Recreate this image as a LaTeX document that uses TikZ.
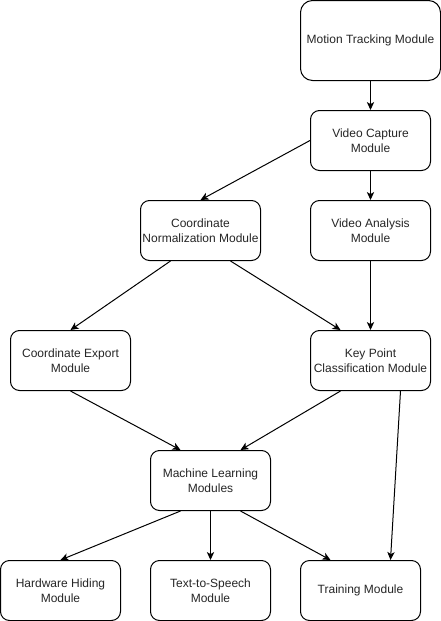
\documentclass[tikz,border=0pt]{standalone}
\usepackage{fontspec}
\setmainfont{Liberation Sans}
\usetikzlibrary{arrows.meta}
\begin{document}
\begin{tikzpicture}[x=0.75pt,y=-0.75pt,
  box/.style={draw=black, line width=0.75pt, rounded corners=6.75pt, fill=white,
    minimum width=90pt, minimum height=45pt, inner sep=1pt, align=center,
    font=\fontsize{9}{11}\selectfont, text=black!85},
  bigbox/.style={box, minimum width=105pt, minimum height=60pt, rounded corners=9pt},
  conn/.style={draw=black, line width=0.75pt, -{Stealth[length=6pt,width=5.5pt,inset=1.6pt]}}]
\useasboundingbox (0,0) rectangle (441,621);
\node[bigbox] (mt) at (370.5,40.5) {Motion Tracking Module};
\node[box] (vc) at (370.5,140.5) {Video Capture\\Module};
\node[box] (cn) at (200.5,230.5) {Coordinate\\Normalization Module};
\node[box] (va) at (370.5,230.5) {Video Analysis\\Module};
\node[box] (ce) at (70.5,360.5) {Coordinate Export\\Module};
\node[box] (kp) at (370.5,360.5) {Key Point\\Classification Module};
\node[box] (ml) at (210.5,480.5) {Machine Learning\\Modules};
\node[box] (hw) at (60.5,590.5) {Hardware Hiding\\Module};
\node[box] (tts) at (210.5,590.5) {Text-to-Speech\\Module};
\node[box] (tr) at (360.5,590.5) {Training Module};

\draw[conn] (mt.south) -- (vc.north);
\draw[conn] (vc.west) -- (cn.north);
\draw[conn] (vc.south) -- (va.north);
\draw[conn] ([xshift=-22.5pt]cn.south) -- (ce.north);
\draw[conn] ([xshift=22.5pt]cn.south) -- ([xshift=-22.5pt]kp.north);
\draw[conn] (va.south) -- (kp.north);
\draw[conn] (ce.south) -- ([xshift=-22.5pt]ml.north);
\draw[conn] ([xshift=-22.5pt]kp.south) -- ([xshift=22.5pt]ml.north);
\draw[conn] ([xshift=22.5pt]kp.south) -- ([xshift=22.5pt]tr.north);
\draw[conn] ([xshift=-22.5pt]ml.south) -- (hw.north);
\draw[conn] (ml.south) -- (tts.north);
\draw[conn] ([xshift=22.5pt]ml.south) -- ([xshift=-22.5pt]tr.north);
\end{tikzpicture}
\end{document}
